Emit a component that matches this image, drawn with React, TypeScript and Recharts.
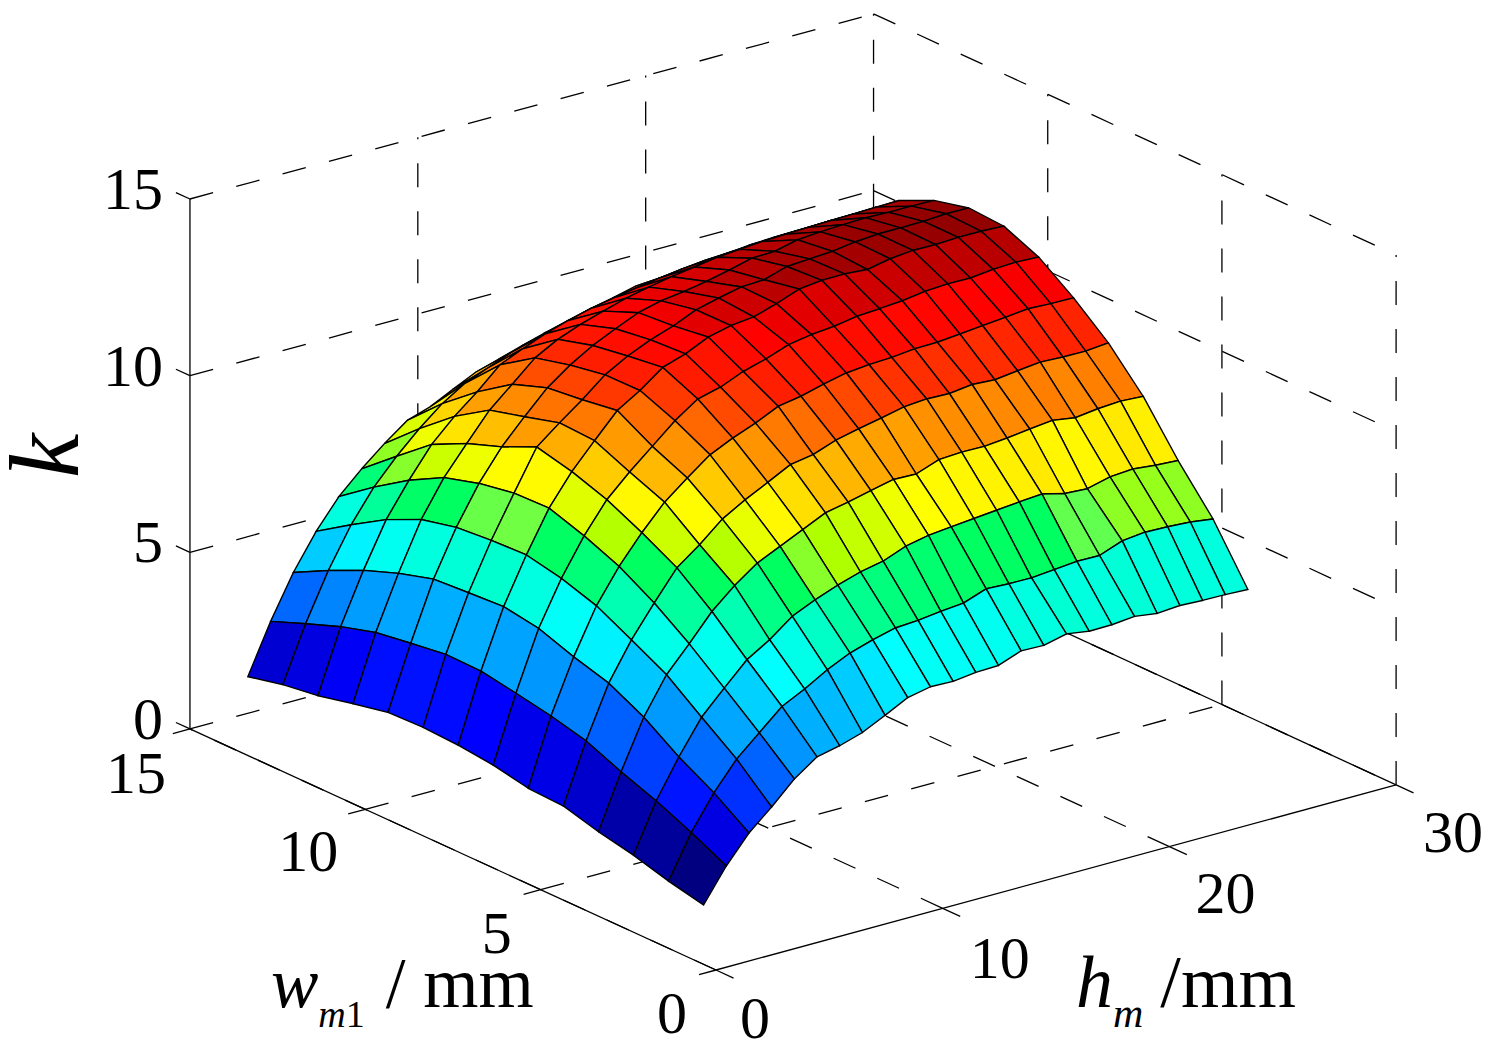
import { ScatterChart, Scatter, XAxis, YAxis } from "recharts";

// surface grid, h = 1..25 mm along each row, one row per w value
const hValues = [1, 2, 3, 4, 5, 6, 7, 8, 9, 10, 11, 12, 13, 14, 15, 16, 17, 18, 19, 20, 21, 22, 23, 24, 25];
const wValues = [1, 2, 3, 4, 5, 6, 7, 8, 9, 10, 11, 12, 13, 14];

const kW1 = [1.21, 2.14, 2.9, 3.46, 4.08, 4.53, 4.67, 4.87, 5.18, 5.51, 5.64, 5.62, 5.7, 5.72, 5.96, 5.94, 6.09, 5.99, 6.0, 6.06, 5.97, 6.02, 5.99, 5.98, 5.95];
const kW2 = [1.43, 2.63, 3.58, 4.36, 4.93, 5.5, 5.82, 6.19, 6.49, 6.69, 6.85, 6.89, 6.97, 7.03, 7.26, 7.23, 7.22, 7.28, 7.34, 7.33, 7.57, 7.64, 7.62, 7.58, 7.49];
const kW3 = [1.71, 3.07, 4.14, 5.09, 5.74, 6.37, 6.76, 7.25, 7.54, 7.78, 7.98, 8.11, 8.36, 8.49, 8.56, 8.62, 8.68, 8.74, 8.79, 8.63, 8.59, 8.75, 8.8, 8.73, 8.69];
const kW4 = [1.92, 3.44, 4.81, 5.84, 6.54, 7.28, 7.84, 8.3, 8.6, 8.9, 9.2, 9.33, 9.48, 9.62, 9.6, 9.83, 9.87, 9.86, 9.92, 10.0, 10.07, 9.97, 10.05, 10.09, 10.05];
const kW5 = [2.19, 3.86, 5.32, 6.37, 7.24, 8.06, 8.54, 9.09, 9.46, 9.78, 10.11, 10.22, 10.45, 10.6, 10.73, 10.87, 10.92, 10.9, 10.98, 10.94, 11.02, 11.09, 11.06, 11.05, 11.11];
const kW6 = [2.24, 4.11, 5.61, 6.88, 7.82, 8.6, 9.29, 9.8, 10.28, 10.58, 10.83, 11.13, 11.24, 11.41, 11.55, 11.61, 11.64, 11.71, 11.72, 11.78, 11.84, 11.9, 11.97, 11.94, 11.93];
const kW7 = [2.44, 4.3, 5.96, 7.2, 8.23, 9.08, 9.69, 10.24, 10.79, 11.23, 11.39, 11.66, 11.84, 12.07, 12.18, 12.24, 12.35, 12.39, 12.44, 12.53, 12.57, 12.56, 12.63, 12.66, 12.63];
const kW8 = [2.55, 4.47, 6.12, 7.41, 8.56, 9.42, 10.12, 10.8, 11.19, 11.67, 11.88, 12.18, 12.33, 12.4, 12.6, 12.84, 12.91, 12.92, 12.87, 13.0, 13.06, 13.05, 13.08, 13.08, 13.05];
const kW9 = [2.6, 4.49, 6.06, 7.37, 8.53, 9.66, 10.17, 10.65, 11.18, 11.54, 11.82, 12.04, 12.32, 12.48, 12.62, 12.65, 12.85, 12.89, 12.93, 13.02, 13.07, 13.07, 13.08, 13.12, 13.11];
const kW10 = [2.57, 4.35, 5.99, 7.28, 8.35, 9.21, 9.89, 10.53, 11.0, 11.38, 11.68, 11.96, 12.12, 12.21, 12.32, 12.47, 12.63, 12.65, 12.8, 12.85, 12.88, 12.9, 12.88, 12.88, 12.87];
const kW11 = [2.36, 4.2, 5.7, 7.05, 8.06, 8.85, 9.62, 10.18, 10.75, 11.1, 11.35, 11.55, 11.74, 11.88, 12.0, 12.1, 12.2, 12.25, 12.3, 12.33, 12.35, 12.37, 12.38, 12.4, 12.41];
const kW12 = [2.13, 3.91, 5.33, 6.59, 7.53, 8.37, 8.99, 9.51, 10.1, 10.38, 10.63, 10.83, 11.0, 11.12, 11.23, 11.33, 11.42, 11.48, 11.52, 11.56, 11.58, 11.6, 11.62, 11.64, 11.66];
const kW13 = [1.99, 3.54, 4.87, 5.99, 6.88, 7.58, 8.19, 8.72, 9.12, 9.38, 9.63, 9.82, 9.99, 10.14, 10.28, 10.42, 10.55, 10.63, 10.68, 10.74, 10.79, 10.83, 10.88, 10.9, 10.92];
const kW14 = [1.76, 3.15, 4.36, 5.35, 6.16, 6.77, 7.31, 7.79, 8.0, 8.32, 8.63, 8.82, 9.02, 9.21, 9.38, 9.54, 9.68, 9.84, 9.84, 9.95, 10.0, 10.05, 10.13, 10.16, 10.18];
const kRows = [kW1, kW2, kW3, kW4, kW5, kW6, kW7, kW8, kW9, kW10, kW11, kW12, kW13, kW14];

const hTicks = [0, 10, 20, 30];
const wTicks = [0, 5, 10, 15];
const kTicks = [0, 5, 10, 15];

// colormap stops, it is close to jet but not the same
const colorLevels = [1.2, 1.43, 1.71, 1.92, 2.44, 2.9, 3.44, 3.86, 4.11, 4.53, 4.87, 5.18, 5.5, 6.0, 6.59, 7.05, 7.3, 7.33, 7.49, 7.78, 8.11, 8.49, 8.75, 9.2, 9.6, 10.05, 10.5, 11.1, 11.9, 12.2, 12.63, 13.12];
const colorStops = ["#000080", "#00009a", "#0000a8", "#0000cc", "#0000ff", "#0030ff", "#0060ff", "#0080ff", "#0098ff", "#00b0ff", "#00ccff", "#00e8ff", "#00ffff", "#00ffdd", "#00ff99", "#00ff66", "#00ff60", "#60ff50", "#80ff33", "#b0ff00", "#d0ff00", "#ffff00", "#ffee00", "#ffc000", "#ffa000", "#ff8000", "#ff5000", "#ff2000", "#ff0000", "#e00000", "#b80000", "#900000"];

// fixed view of the box, orthographic like the matlab figure with a small correction at the far corner
const project = (h: number, w: number, k: number) => ({
  x: 716 + 22.67 * h - 35.07 * w + (3.5 * h * w) / 450,
  y: 970 - 6.17 * h - 16.07 * w - 35.33 * k,
});

const hex = (s: string, i: number) => parseInt(s.slice(1 + 2 * i, 3 + 2 * i), 16);

const faceColor = (k: number) => {
  let i = 0;
  while (i < colorLevels.length - 2 && k > colorLevels[i + 1]) i++;
  const t = Math.max(0, Math.min(1, (k - colorLevels[i]) / (colorLevels[i + 1] - colorLevels[i])));
  const mix = (c: number) => Math.round(hex(colorStops[i], c) + (hex(colorStops[i + 1], c) - hex(colorStops[i], c)) * t);
  return `rgb(${mix(0)},${mix(1)},${mix(2)})`;
};

const noDot = () => null;

type Seg = { id: string; from: number[]; to: number[]; dashed: boolean };

const segments: Seg[] = [];
kTicks.forEach((k) => {
  segments.push({ id: `wall-a-${k}`, from: [0, 15, k], to: [30, 15, k], dashed: true });
  segments.push({ id: `wall-b-${k}`, from: [30, 15, k], to: [30, 0, k], dashed: true });
  segments.push({ id: `k-tick-${k}`, from: [0, 15, k], to: [0, 15.4, k], dashed: false });
});
hTicks.forEach((h) => {
  if (h < 30) segments.push({ id: `floor-h-${h}`, from: [h, 0, 0], to: [h, 15, 0], dashed: true });
  segments.push({ id: `h-tick-${h}`, from: [h, 0, 0], to: [h, -0.5, 0], dashed: false });
  if (h > 0) segments.push({ id: `wall-v-h-${h}`, from: [h, 15, 0], to: [h, 15, 15], dashed: true });
});
wTicks.forEach((w) => {
  if (w > 0 && w < 15) segments.push({ id: `floor-w-${w}`, from: [0, w, 0], to: [30, w, 0], dashed: true });
  segments.push({ id: `w-tick-${w}`, from: [0, w, 0], to: [-0.75, w, 0], dashed: false });
  if (w < 15) segments.push({ id: `wall-v-w-${w}`, from: [30, w, 0], to: [30, w, 15], dashed: true });
});
segments.push({ id: "axis-k", from: [0, 15, 0], to: [0, 15, 15], dashed: false });
segments.push({ id: "axis-w", from: [0, 0, 0], to: [0, 15, 0], dashed: false });
segments.push({ id: "axis-h", from: [0, 0, 0], to: [30, 0, 0], dashed: false });
segments.push({ id: "floor-back", from: [30, 15, 0], to: [30, 0, 0], dashed: false });

const point = (p: number[]) => project(p[0], p[1], p[2]);

// back cells first so the front ones paint over them
const cells: { id: string; color: string; pts: { x: number; y: number }[] }[] = [];
for (let i = wValues.length - 2; i >= 0; i--) {
  for (let j = hValues.length - 2; j >= 0; j--) {
    cells.push({
      id: `cell-${i}-${j}`,
      color: faceColor(kRows[i][j]),
      pts: [
        project(hValues[j], wValues[i], kRows[i][j]),
        project(hValues[j + 1], wValues[i], kRows[i][j + 1]),
        project(hValues[j + 1], wValues[i + 1], kRows[i + 1][j + 1]),
        project(hValues[j], wValues[i + 1], kRows[i + 1][j]),
      ],
    });
  }
}

const TickText = ({ cx, cy, label, anchor }: any) => (
  <text x={cx} y={cy} fontSize={60} fontFamily="Liberation Serif" textAnchor={anchor} fill="#000">
    {label}
  </text>
);

const labels = [
  ...kTicks.map((k) => {
    const p = project(0, 15, k);
    return { id: `k${k}`, text: String(k), x: p.x - 27, y: p.y + 10, anchor: "end" };
  }),
  ...wTicks.map((w, i) => {
    const p = project(0, w, 0);
    return { id: `w${w}`, text: String(w), x: p.x + [-44, -44, -57, -54][i], y: p.y + [63, 63, 62, 64][i], anchor: "middle" };
  }),
  ...hTicks.map((h, i) => {
    const p = project(h, 0, 0);
    return { id: `h${h}`, text: String(h), x: p.x + [39, 57, 56, 57][i], y: p.y + [68, 70, 66, 67][i], anchor: "middle" };
  }),
];

const WTitle = ({ cx, cy }: any) => (
  <text x={cx} y={cy} fontFamily="Liberation Serif" fill="#000" fontSize={71}>
    <tspan fontStyle="italic">w</tspan>
    <tspan fontStyle="italic" fontSize={38} dy={20}>m</tspan>
    <tspan fontSize={38}>1</tspan>
    <tspan dy={-20} dx={21}>/ mm</tspan>
  </text>
);

const HTitle = ({ cx, cy }: any) => (
  <text x={cx} y={cy} fontFamily="Liberation Serif" fill="#000" fontSize={74}>
    <tspan fontStyle="italic">h</tspan>
    <tspan fontStyle="italic" fontSize={42} dy={20}>m</tspan>
    <tspan dy={-20} dx={17}>/mm</tspan>
  </text>
);

const KTitle = ({ cx, cy }: any) => (
  <text
    x={cx}
    y={cy}
    fontFamily="Liberation Serif"
    fontStyle="italic"
    fontSize={100}
    fill="#000"
    transform={`rotate(-90 ${cx} ${cy})`}
  >
    k
  </text>
);

export default function App() {
  return (
    <div style={{ position: "absolute", left: 0, top: 0 }}>
      <ScatterChart width={1493} height={1048} margin={{ top: 0, right: 0, bottom: 0, left: 0 }}>
        <XAxis type="number" dataKey="x" domain={[0, 1493]} hide />
        <YAxis type="number" dataKey="y" domain={[0, 1048]} reversed hide />
        {segments.map((s) => (
          <Scatter
            key={s.id}
            data={[point(s.from), point(s.to)]}
            shape={noDot}
            line={{ stroke: "#000", strokeWidth: 1.3, strokeDasharray: s.dashed ? "24 24" : undefined }}
            isAnimationActive={false}
          />
        ))}
        {cells.map((c) => (
          <Scatter
            key={c.id}
            data={c.pts}
            shape={noDot}
            line={{ stroke: "#000", strokeWidth: 1.4, fill: c.color }}
            lineJointType="linearClosed"
            isAnimationActive={false}
          />
        ))}
        {labels.map((l) => (
          <Scatter
            key={l.id}
            data={[{ x: l.x, y: l.y }]}
            shape={(p: any) => <TickText cx={p.cx} cy={p.cy} label={l.text} anchor={l.anchor} />}
            isAnimationActive={false}
          />
        ))}
        <Scatter data={[{ x: 271, y: 1007 }]} shape={WTitle} isAnimationActive={false} />
        <Scatter data={[{ x: 1076, y: 1007 }]} shape={HTitle} isAnimationActive={false} />
        <Scatter data={[{ x: 78, y: 478 }]} shape={KTitle} isAnimationActive={false} />
      </ScatterChart>
    </div>
  );
}
